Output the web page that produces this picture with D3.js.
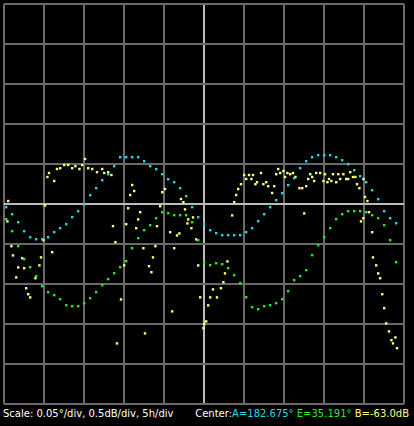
<!DOCTYPE html>
<html><head><meta charset="utf-8">
<script src="https://cdn.jsdelivr.net/npm/d3@7"></script>
<style>html,body{margin:0;background:#000;}svg{display:block}</style>
</head><body>
<script>
// time in hours (5 h/div), values in divisions from centre
const sampleStart = 0.25, sampleStep = 0.75;
const cyanA = [-0.075,-0.25,-0.45,-0.675,-0.825,-0.875,-0.875,-0.825,-0.7,-0.6,-0.5,-0.325,-0.175,0,0.225,0.4,0.6,0.75,0.95,1.175,1.175,1.175,1.175,1.075,0.95,0.875,0.75,0.625,0.55,0.4,0.2,-0.075,-0.325,-0.5,-0.65,-0.725,-0.775,-0.775,-0.775,-0.775,-0.7,-0.6,-0.425,-0.25,-0.075,0.1,0.275,0.475,0.65,0.9,1.075,1.175,1.225,1.225,1.225,1.175,1.1,1.0,0.85,0.7,0.55,0.35,0.125,-0.175,-0.35,-0.475];
const greenE = [-0.375,-0.675,-1.05,-1.375,-1.575,-1.8,-2.05,-2.2,-2.275,-2.375,-2.525,-2.55,-2.55,-2.475,-2.35,-2.2,-2.025,-1.875,-1.725,-1.575,-1.425,-1.1,-0.85,-0.65,-0.525,-0.35,-0.2,-0.225,-0.275,-0.275,-0.275,-0.45,-0.9,-1.45,-1.525,-1.475,-1.5,-1.6,-1.775,-1.975,-2.325,-2.575,-2.625,-2.55,-2.525,-2.475,-2.375,-2.175,-1.9,-1.8,-1.65,-1.275,-1.025,-0.825,-0.6,-0.375,-0.25,-0.175,-0.175,-0.175,-0.2,-0.275,-0.35,-0.525,-0.9,-1.45];
const yellowT = [0.5,0.4,0.9,1.1,1.75,1.5,2.25,2.5,2.75,3,3.25,3.9,4.4,4.6,4.9,5.1,5.4,5.6,6.25,6.6,7,7.5,8,8.5,8.9,9.4,9.75,10.1,10.5,11,11.6,12.25,12.5,13,13.4,13.6,13.9,6,14.1,14.6,15,15.25,15.5,15.75,16,16.25,16.5,16.75,17,17.4,17.6,18.1,18.4,18.6,18.9,19.1,19.5,19.75,20.1,20.75,21,21.25,21.6,21.9,22.1,22.4,22.6,22.9,23,23.4,23.6,24,24.25,24.5,24.9,25,25.25,25.5,25.75,26.1,26.6,27.1,27.4,27.6,27.9,28.5,28.75,29,29.25,29.6,30,30.25,30.6,30.9,31.1,31.4,31.6,32.1,32.4,32.75,33,33.5,33.75,34,34.25,34.5,34.9,35.1,35.4,35.75,36.1,36.4,36.9,37.25,37.5,37.75,38,38.25,38.5,38.75,39,39.5,39.9,40.1,40.4,40.6,40.9,41.1,41.5,41.75,42,42.4,42.75,43,43.25,43.6,43.9,44.1,44.4,44.9,45.1,45.4,45.6,44.6,44.9,46,46.1,46.5,46.75,47,47.25,47.5,47.75,48.1,48.4,48.6,48.9,49.1];
const yellowB = [0.08,-0.43,-1.05,-1.28,-1.58,-1.83,-1.35,-1.6,-2.1,-2.25,-2.33,-1.85,-1.53,-1.33,-0.9,-0.03,0.68,0.78,0.58,0.88,0.9,0.98,0.98,0.9,0.95,0.88,0.98,1.13,0.9,0.88,0.8,0.88,0.78,0.8,0.73,-0.55,-0.95,-1.2,-3.48,-2.38,-1.53,-0.5,-0.1,0.23,0.48,0.33,-0.6,-0.38,-0.2,-1.1,-3.23,-1.55,-1.7,-1.33,-1.05,-0.55,-0.05,0.3,0.38,-0.7,-2.68,-1.1,-0.78,-0.73,0.13,0.05,-0.13,-0.48,-0.38,-0.6,-0.33,-0.88,-1.53,-2.33,-3.1,-3,-2.93,-2.53,-2.33,-2.13,-2.33,-2.1,-1.95,-1.73,-1.43,-0.28,0.05,0.23,0.38,0.5,0.73,0.63,0.73,0.63,0.73,0.5,0.55,0.78,0.5,0.55,0.45,0.28,0.45,0.75,0.88,0.78,0.83,0.68,0.78,0.75,0.78,0.68,0.4,0.4,-0.23,0.45,0.63,0.75,0.68,0.58,0.78,0.78,0.58,0.75,0.55,0.63,0.58,0.75,0.55,0.75,0.63,0.75,0.63,0.63,0.8,0.68,0.68,0.5,0.4,0.63,0.18,0.08,-0.2,-0.43,-0.35,-0.7,-1.33,-1.53,-1.73,-1.85,-2.25,-2.6,-2.98,-3.18,-3.4,-3.48,-3.33,-3.6];
const scaleText = "Scale: 0.05°/div, 0.5dB/div, 5h/div";
const centerLabels = [["Center:","#ffffff"],["A=182.675°","#22d8e6"],[" E=35.191°","#22ee22"],[" B=-63.0dB","#ffff77"]];

const W=414,H=426;
const svg=d3.select("body").append("svg").attr("width",W).attr("height",H).style("background","#000");
const x=d3.scaleLinear().domain([0,50]).range([4,404]);
const y=d3.scaleLinear().domain([-5,5]).range([404,4]);
const g=svg.append("g");
g.selectAll("line.v").data(d3.range(0,51,5)).join("line")
 .attr("x1",d=>x(d)).attr("x2",d=>x(d)).attr("y1",y(5)).attr("y2",y(-5))
 .attr("stroke",d=>d===25?"#bbbbbb":"#6a6a6a").attr("stroke-width",2);
g.selectAll("line.h").data(d3.range(-5,6,1)).join("line")
 .attr("y1",d=>y(d)).attr("y2",d=>y(d)).attr("x1",x(0)).attr("x2",x(50))
 .attr("stroke",d=>d===0?"#bbbbbb":"#6a6a6a").attr("stroke-width",2);

function dots(data,color){
  svg.append("g").selectAll("rect").data(data).join("rect")
   .attr("x",d=>x(d[0])-1).attr("y",d=>y(d[1])-1).attr("width",2.4).attr("height",2.4).attr("fill",color);
}
dots(yellowT.map((t,i)=>[t,yellowB[i]]),"#ffff77");
dots(greenE.map((v,i)=>[sampleStart+i*sampleStep,v]),"#22ee22");
dots(cyanA.map((v,i)=>[sampleStart+i*sampleStep,v]),"#22d8e6");

const font="DejaVu Sans, sans-serif";
svg.append("text").attr("x",3).attr("y",417).attr("fill","#fff")
 .attr("font-family",font).attr("font-size",10).text(scaleText);
const ct=svg.append("text").attr("x",409).attr("y",417).attr("text-anchor","end")
 .attr("font-family",font).attr("font-size",10).attr("xml:space","preserve");
centerLabels.forEach(([t,c])=>ct.append("tspan").attr("fill",c).text(t));
</script>
</body></html>
